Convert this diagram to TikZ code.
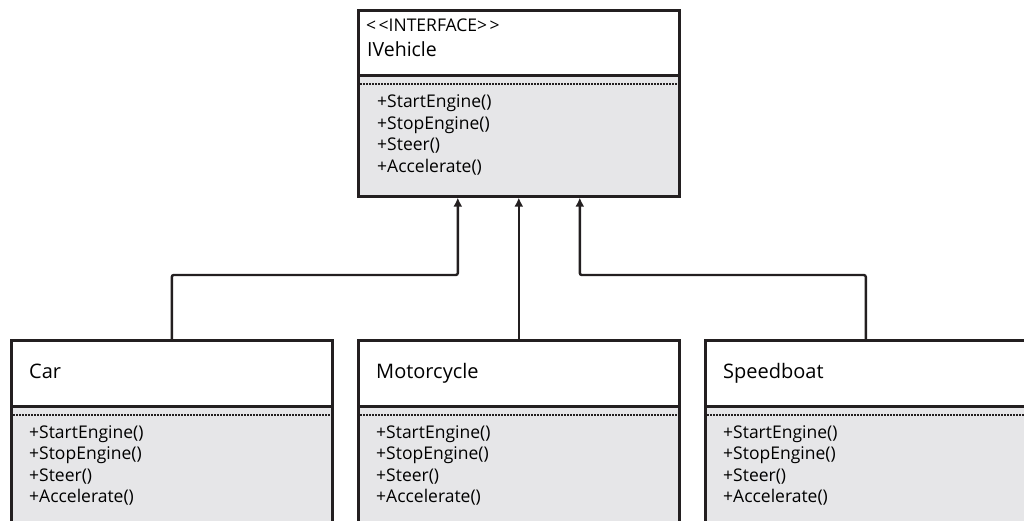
\documentclass[tikz,border=0pt]{standalone}
\usepackage{fontspec}
\setmainfont{Open Sans}
\usetikzlibrary{arrows.meta}
\definecolor{umlline}{HTML}{231F20}
\definecolor{umlgray}{HTML}{E6E6E8}
\tikzset{
  classhead/.style={draw=umlline, line width=2.6pt, fill=white, anchor=north west,
    minimum width=321pt, inner sep=0pt},
  classbody/.style={classhead, fill=umlgray},
  sepline/.style={umlline, line width=2pt, dash pattern=on 1.5pt off 1.5pt},
  classname/.style={anchor=base west, inner sep=0pt, font=\fontsize{20}{23}\selectfont},
  method/.style={anchor=base west, inner sep=0pt, font=\fontsize{17.5}{21}\selectfont},
  conn/.style={umlline, line width=2.4pt, rounded corners=2pt, -{Latex[length=9pt,width=9pt]}}
}
\begin{document}
\begin{tikzpicture}[x=1pt,y=-1pt]
    \clip (0,0) rectangle (1024,521);
    % Interface
    \node[classbody, minimum height=121pt] (ivehicle-body) at (357,74) {};
    \node[classhead, minimum height=65pt] (ivehicle-head) at (357,9) {};
    \draw[sepline] ([yshift=-10pt]ivehicle-body.north west) -- ([yshift=-10pt]ivehicle-body.north east);
    \node[method] (ivehicle-stereo) at (366,32)
        {<\kern2.5pt<INTERFACE>\kern2.5pt>};
    \node[classname, font=\fontsize{19.5}{23}\selectfont] (ivehicle-label) at (367,57) {IVehicle};
    \foreach \m [count=\i] in {StartEngine,StopEngine,Steer,Accelerate}
        \node[method] (ivehicle-m\i) at (377,86.5+21.5*\i) {+\m()};
    % Implementing classes
    \foreach \name/\label/\x in {car/Car/10, moto/Motorcycle/357, boat/Speedboat/704}{
        \node[classbody, minimum height=125pt] (\name-body) at (\x,405) {};
        \node[classhead, minimum height=66pt] (\name-head) at (\x,339) {};
        \draw[sepline] ([yshift=-9.5pt]\name-body.north west) -- ([yshift=-9.5pt]\name-body.north east);
        \node[classname] (\name-label) at (\x+19,378) {\label};
        \foreach \m [count=\i] in {StartEngine,StopEngine,Steer,Accelerate}
            \node[method] (\name-m\i) at (\x+19,416.5+21.5*\i) {+\m()};
    }
    % Realization arrows
    \draw[conn] (car-head.north) -- ++(0,-64) -| ([xshift=-61pt]ivehicle-body.south);
    \draw[conn] (moto-head.north) -- (ivehicle-body.south);
    \draw[conn] (boat-head.north) -- ++(0,-64) -| ([xshift=61pt]ivehicle-body.south);
\end{tikzpicture}
\end{document}
